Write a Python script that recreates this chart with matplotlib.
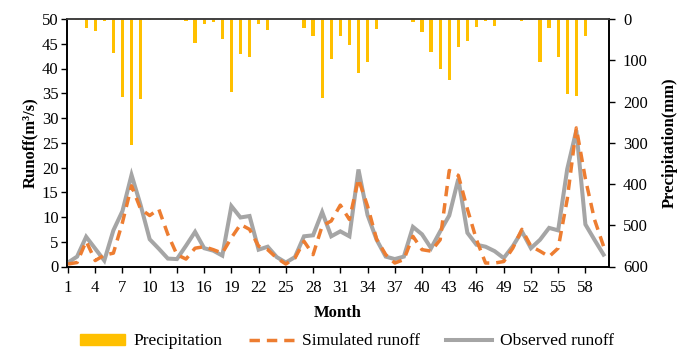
import numpy as np
import matplotlib.pyplot as plt
from matplotlib.patches import Patch
from matplotlib.lines import Line2D

plt.rcParams['font.family'] = ['Liberation Serif', 'DejaVu Serif']

months = np.arange(1, 61)

# monthly precipitation (mm)
precip = [0, 2, 23, 29, 5, 83, 190, 305, 193, 2,
          0, 2, 2, 5, 59, 11, 7, 49, 176, 84,
          92, 11, 27, 0, 1, 0, 23, 41, 191, 97,
          42, 62, 130, 104, 24, 1, 1, 0, 8, 32,
          79, 120, 149, 69, 53, 20, 6, 16, 2, 3,
          6, 2, 104, 23, 92, 182, 186, 42, 0, 0]

# simulated runoff (m3/s)
simulated = [0.5, 0.8, 5.1, 1.2, 2.3, 2.7, 8.9, 16.3, 11.6, 10.3,
             11.6, 6.5, 2.4, 1.5, 3.7, 4.0, 3.4, 2.7, 5.8, 8.5,
             7.5, 4.1, 3.4, 1.7, 0.5, 1.7, 5.1, 2.4, 8.2, 9.2,
             12.4, 9.5, 17.7, 12.2, 5.5, 2.4, 0.7, 1.4, 6.1, 3.4,
             3.1, 5.4, 19.4, 18.4, 11.6, 5.4, 0.7, 0.7, 1.0, 3.7,
             7.5, 4.1, 3.1, 2.0, 3.7, 13.6, 28.0, 17.7, 9.5, 4.1]

# observed runoff (m3/s)
observed = [0.8, 2.0, 6.0, 3.6, 1.2, 7.3, 11.2, 18.5, 12.4, 5.5,
            3.6, 1.6, 1.5, 4.2, 7.0, 3.7, 3.2, 2.2, 12.2, 9.9,
            10.2, 3.4, 4.0, 1.9, 0.8, 1.9, 6.1, 6.3, 11.0, 6.1,
            7.1, 6.1, 19.6, 10.4, 5.4, 2.0, 1.5, 2.0, 8.0, 6.5,
            3.7, 7.1, 10.3, 17.7, 6.8, 4.4, 4.0, 3.1, 1.7, 4.1,
            7.1, 3.7, 5.4, 7.8, 7.3, 19.7, 27.5, 8.5, 5.4, 2.4]

fig = plt.figure(figsize=(6.83, 3.49), dpi=100)
ax = fig.add_axes([67 / 683, 1 - 266.5 / 349, 542 / 683, 247.5 / 349])
ax2 = ax.twinx()

# precipitation hangs from the top on an inverted axis
ax2.bar(months, precip, width=0.36, color='#FFC000', zorder=1)
ax2.set_ylim(600, 0)
ax2.set_yticks(range(0, 601, 100))

ax.set_zorder(ax2.get_zorder() + 1)
ax.patch.set_visible(False)
ax.plot(months, observed, color='#A5A5A5', lw=2.9, solid_joinstyle='miter')
ax.plot(months, simulated, color='#ED7D31', lw=2.5, ls=(0, (3, 2)))

ax.set_xlim(0.89, 60.6)
ax.set_ylim(0, 50)
ax.set_yticks(range(0, 51, 5))
ax.set_xticks(range(1, 59, 3))

for a in (ax, ax2):
    a.tick_params(direction='out', length=4, width=1, labelsize=12, colors='black')
    for s in a.spines.values():
        s.set_color('black')
        s.set_linewidth(1.2)
    a.spines['top'].set_color('#404040')
ax.tick_params(axis='y', pad=2)
ax2.tick_params(axis='y', pad=6, labelsize=12)
ax.tick_params(axis='x', pad=6)

ax.set_xlabel('Month', fontsize=12, fontweight='bold', labelpad=6)
ax.set_ylabel('Runoff(m³/s)', fontsize=12, fontweight='bold', labelpad=3)
ax2.set_ylabel('Precipitation(mm)', fontsize=12, fontweight='bold', labelpad=10)

handles = [Patch(color='#FFC000'),
           Line2D([], [], color='#ED7D31', lw=2.5, ls=(0, (3, 2))),
           Line2D([], [], color='#A5A5A5', lw=2.9)]
labels = ['Precipitation', 'Simulated runoff', 'Observed runoff']
fig.legend(handles, labels, loc='center', bbox_to_anchor=(0.508, 0.022), ncol=3,
           frameon=False, fontsize=12.5, handlelength=2.6, handleheight=0.6,
           columnspacing=1.5, handletextpad=0.5)

fig.savefig('out.png', dpi=100)
